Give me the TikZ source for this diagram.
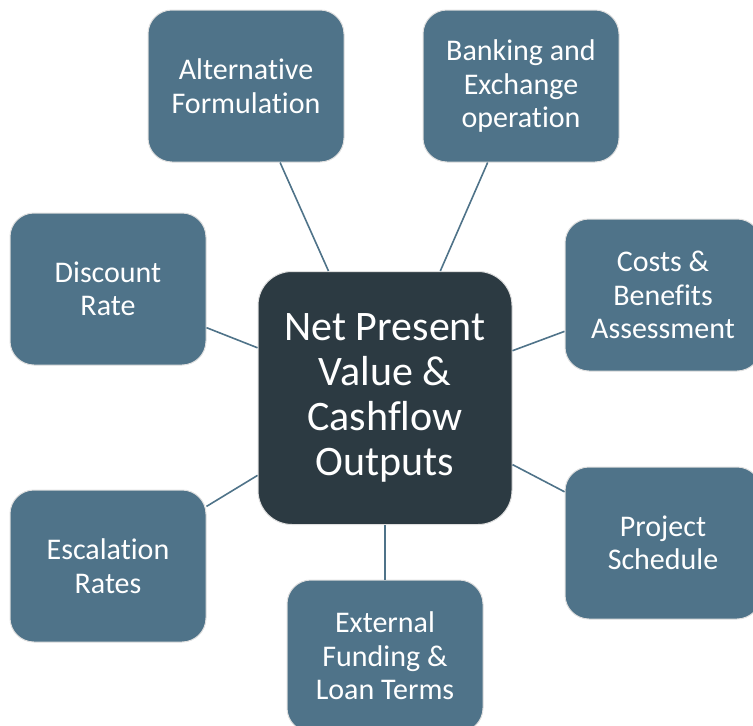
\documentclass[tikz,border=0pt]{standalone}
\usepackage{fontspec}
\setmainfont{Carlito}[Ligatures={NoCommon}]
\definecolor{spokefill}{HTML}{4F7389}
\definecolor{hubfill}{HTML}{2C3A42}
\begin{document}
\begin{tikzpicture}[x=1pt,y=-1pt,
        topic/.style={rectangle, rounded corners=24pt, fill=spokefill, draw=gray!25, line width=1pt,
            minimum width=196pt, minimum height=152pt, align=center, text=white,
            font=\fontsize{30}{33.5}\selectfont},
        hub/.style={rectangle, rounded corners=34pt, fill=hubfill, draw=gray!25, line width=1pt,
            minimum width=254pt, minimum height=253pt, align=center, text=white,
            font=\fontsize{42}{45}\selectfont},
        link/.style={draw=spokefill, line width=1.6pt}]
    \useasboundingbox (0,0) rectangle (753,726);
    \node [hub] (npv) at (385,398) {Net Present\\Value \&\\Cashflow\\Outputs};
    \node [topic] (alt) at (246,86) {Alternative\\Formulation};
    \node [topic] (bank) at (521,86) {Banking and\\Exchange\\operation};
    \node [topic] (cost) at (663,295) {Costs \&\\Benefits\\Assessment};
    \node [topic] (disc) at (108,289) {Discount\\Rate};
    \node [topic] (sched) at (663,543) {Project\\Schedule};
    \node [topic] (esc) at (108,566) {Escalation\\Rates};
    \node [topic] (fund) at (385,656) {External\\Funding \&\\Loan Terms};
    \draw [link] (npv) -- (alt);
    \draw [link] (npv) -- (bank);
    \draw [link] (npv) -- (cost);
    \draw [link] (npv) -- (disc);
    \draw [link] (npv) -- (sched);
    \draw [link] (npv) -- (esc);
    \draw [link] (npv) -- (fund);
\end{tikzpicture}
\end{document}
